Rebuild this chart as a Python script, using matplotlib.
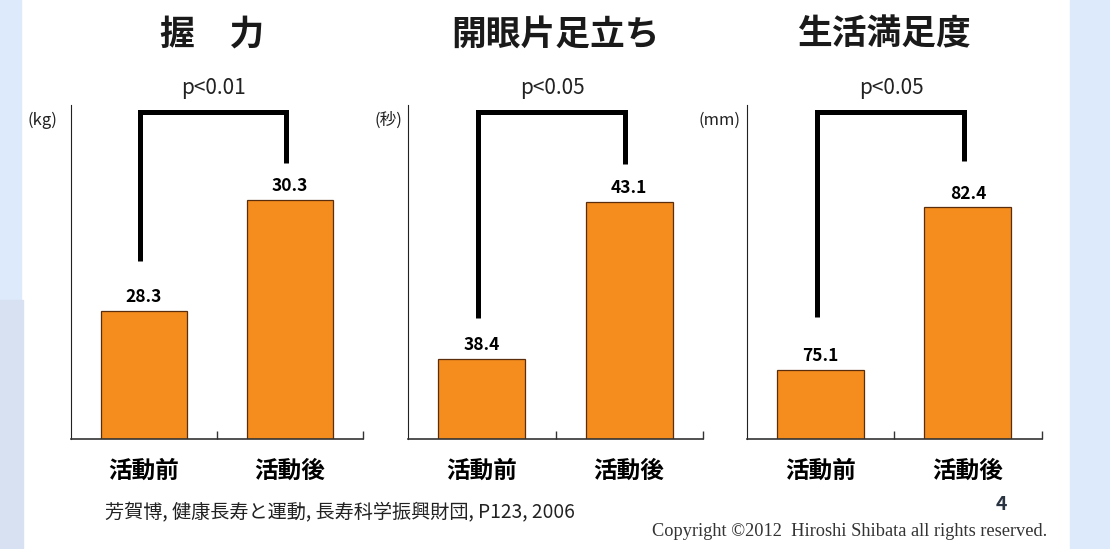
import matplotlib.pyplot as plt
from matplotlib.patches import Rectangle

plt.rcParams['font.family'] = ['Noto Sans CJK JP', 'DejaVu Sans']

# data
titles = ["握　力", "開眼片足立ち", "生活満足度"]
units = ["(kg)", "(秒)", "(mm)"]
groups = ["活動前", "活動後"]
before = [28.3, 38.4, 75.1]
after = [30.3, 43.1, 82.4]
p_labels = ["p<0.01", "p<0.05", "p<0.05"]
y_ranges = [(26, 32), (36, 46), (72, 87)]

# layout (pixels)
W, H = 1110, 549
ax_left = [70.7, 408.3, 746.7]
ax_width = [292.3, 294.4, 295.0]
ax_bottom, ax_height = 110, 334
title_x = [212, 555, 885]
unit_x = [57, 402, 740]
left_gap = [50, 41, 53]
right_gap = [37, 38, 46]

fig = plt.figure(figsize=(W / 100, H / 100), dpi=100)
fig.patch.set_facecolor("white")

# slide background strips
fig.add_artist(Rectangle((0, 249 / H), 21 / W, 300 / H, transform=fig.transFigure,
                         color="#dceafc", zorder=0))
fig.add_artist(Rectangle((0, 0), 23 / W, 249 / H, transform=fig.transFigure,
                         color="#d7e1f2", zorder=0))
fig.add_artist(Rectangle((1070 / W, 0), 40 / W, 1, transform=fig.transFigure,
                         color="#dceafc", zorder=0))

for i in range(3):
    ax = fig.add_axes([ax_left[i] / W, ax_bottom / H, ax_width[i] / W, ax_height / H])
    ax.set_facecolor("none")
    vals = [before[i], after[i]]
    lo, hi = y_ranges[i]
    ax.bar([0, 1], vals, width=0.59, color="#f58c1e", edgecolor="#5a2d0c",
           linewidth=0.9, zorder=2)
    ax.set_xlim(-0.5, 1.5)
    ax.set_ylim(lo, hi)

    for s in ["top", "right"]:
        ax.spines[s].set_visible(False)
    ax.spines["left"].set_linewidth(0.8)
    ax.spines["left"].set_color("#222222")
    ax.spines["bottom"].set_linewidth(1.2)
    ax.spines["bottom"].set_color("#333333")

    ax.set_yticks([])
    ax.set_xticks([0, 1], groups)
    ax.set_xticks([0.5, 1.5], minor=True)
    ax.tick_params(axis="x", which="major", length=0, pad=14, labelsize=17)
    ax.tick_params(axis="x", which="minor", direction="in", length=6, width=1,
                   color="#333333")
    for lab in ax.get_xticklabels():
        lab.set_fontweight("bold")

    for x, v in zip([0, 1], vals):
        ax.annotate(f"{v:.1f}", (x, v), xytext=(0, 10), textcoords="offset points",
                    ha="center", va="center", fontsize=12.5, fontweight="bold")

    # significance bracket
    frac = lambda v: (v - lo) / (hi - lo)
    top = 0.98
    yl = frac(vals[0]) + left_gap[i] / ax_height
    yr = frac(vals[1]) + right_gap[i] / ax_height
    ax.plot([-0.025, -0.025, 0.975, 0.975], [yl, top, top, yr],
            transform=ax.get_xaxis_transform(), color="black", lw=3.6,
            solid_joinstyle="miter", solid_capstyle="butt", clip_on=False, zorder=3)
    ax.text(0.48, 1.051, p_labels[i], transform=ax.get_xaxis_transform(),
            ha="center", va="center", fontsize=15, color="#222222")

    fig.text(title_x[i] / W, 1 - 34 / H, titles[i], ha="center", va="center",
             fontsize=25, fontweight="bold", color="#1a1a1a")
    fig.text(unit_x[i] / W, 1 - 120 / H, units[i], ha="right", va="center",
             fontsize=12, color="#222222")

fig.text(105 / W, 1 - 513 / H, "芳賀博, 健康長寿と運動, 長寿科学振興財団, P123, 2006",
         ha="left", va="center", fontsize=13.8, color="#222222")
fig.text(1001 / W, 1 - 505 / H, "4", ha="center", va="center", fontsize=14,
         fontweight="bold", color="#2a3342")
fig.text(652 / W, 1 - 531 / H, "Copyright ©2012  Hiroshi Shibata all rights reserved.",
         ha="left", va="center", fontsize=13.2, family="Liberation Serif",
         color="#333333")

fig.savefig("out.png", dpi=100)
